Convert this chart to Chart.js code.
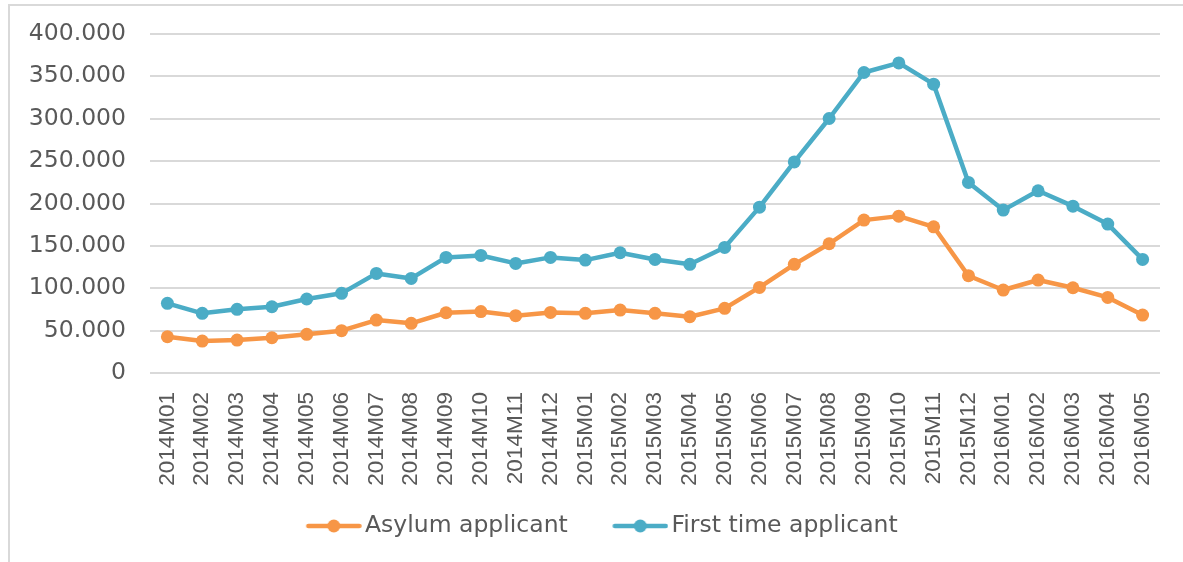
<!DOCTYPE html>
<html><head><meta charset="utf-8">
<script src="https://cdn.jsdelivr.net/npm/chart.js@4/dist/chart.umd.min.js"></script>
<style>
html,body{margin:0;padding:0;background:#fff;overflow:hidden}
#wrap{position:relative;width:1183px;height:562px}
#frame{position:absolute;left:8px;top:4px;width:1200px;height:600px;border:2px solid #d9d9d9;box-sizing:border-box}
canvas{position:absolute;left:0;top:0}
</style></head><body>
<div id="wrap"><div id="frame"></div><canvas id="c" width="1183" height="562"></canvas></div>
<script>
const categories = ['2014M01','2014M02','2014M03','2014M04','2014M05','2014M06','2014M07','2014M08','2014M09','2014M10','2014M11','2014M12',
  '2015M01','2015M02','2015M03','2015M04','2015M05','2015M06','2015M07','2015M08','2015M09','2015M10','2015M11','2015M12',
  '2016M01','2016M02','2016M03','2016M04','2016M05'];
const asylumApplicants = [42800, 37700, 38900, 41600, 45600, 49900, 62500, 58600, 71100, 72500, 67600, 71500,
  70400, 74300, 70400, 66400, 76300, 101000, 128200, 152500, 180400, 185100, 172500, 114800,
  97900, 109700, 100600, 89200, 68400];
const firstTimeApplicants = [82200, 70400, 75100, 78200, 87300, 94000, 117500, 111600, 136400, 138700, 129300, 136400,
  133200, 141900, 134000, 128200, 148200, 195700, 249100, 300300, 354600, 365900, 340800, 224900,
  192200, 215000, 196900, 175700, 134000];
const yTickValues = [0, 50000, 100000, 150000, 200000, 250000, 300000, 350000, 400000];
const seriesNames = ['Asylum applicant', 'First time applicant'];
const seriesColors = ['#F79646', '#4BACC6'];

function fmt(v) { return String(v).replace(/\B(?=(\d{3})+(?!\d))/g, '.'); }

function legendIcon(color) {
  const cv = document.createElement('canvas');
  cv.width = 108; cv.height = 16;
  const g = cv.getContext('2d');
  g.strokeStyle = color; g.lineWidth = 4.5; g.lineCap = 'round';
  g.beginPath(); g.moveTo(54.5, 8); g.lineTo(105.5, 8); g.stroke();
  g.fillStyle = color; g.beginPath(); g.arc(80, 8, 6.5, 0, Math.PI * 2); g.fill();
  return cv;
}
const legendIcons = seriesColors.map(legendIcon);

const AXIS_FONT = 'DejaVu Sans';
const LABEL_FONT = 'Liberation Sans';
const TEXT_COLOR = '#595959';

function makeDataset(i, data) {
  return {
    label: seriesNames[i], data: data,
    borderColor: seriesColors[i], backgroundColor: seriesColors[i],
    borderWidth: 4.5, tension: 0, borderCapStyle: 'round', borderJoinStyle: 'round',
    pointRadius: 6.5, pointHoverRadius: 6.5, pointBorderWidth: 0,
    pointBackgroundColor: seriesColors[i], pointBorderColor: seriesColors[i]
  };
}

new Chart(document.getElementById('c'), {
  type: 'line',
  data: { labels: categories, datasets: [makeDataset(0, asylumApplicants), makeDataset(1, firstTimeApplicants)] },
  options: {
    responsive: false, animation: false, devicePixelRatio: 1,
    layout: { padding: { left: 0, right: 23, top: 34, bottom: 14.25 } },
    plugins: {
      tooltip: { enabled: false },
      legend: {
        position: 'bottom', align: 'center',
        labels: {
          usePointStyle: true, pointStyleWidth: 91, padding: 1,
          color: TEXT_COLOR, font: { family: AXIS_FONT, size: 23.5 },
          generateLabels(chart) {
            const items = Chart.defaults.plugins.legend.labels.generateLabels(chart);
            items.forEach((it, i) => { it.pointStyle = legendIcons[i]; it.lineWidth = 0; });
            return items;
          }
        }
      }
    },
    scales: {
      x: {
        offset: true,
        grid: { display: false, drawTicks: false },
        border: { display: false },
        ticks: { autoSkip: false, minRotation: 90, maxRotation: 90, padding: 19,
          color: TEXT_COLOR, font: { family: LABEL_FONT, size: 22.5 } },
        afterFit(s) { s.height = 140.25; s.paddingLeft = 0; s.paddingRight = 0; s.paddingTop = 0; s.paddingBottom = 0; }
      },
      y: {
        min: 0, max: 400000,
        afterBuildTicks(s) { s.ticks = yTickValues.map(v => ({ value: v })); },
        grid: { color: '#d9d9d9', lineWidth: 2, drawTicks: false },
        border: { display: false },
        ticks: { padding: 24, color: TEXT_COLOR, font: { family: AXIS_FONT, size: 23.5 },
          callback: (v) => fmt(v) },
        afterFit(s) { s.width = 150; s.paddingLeft = 0; s.paddingRight = 0; s.paddingTop = 0; s.paddingBottom = 0; }
      }
    }
  }
});
</script>
</body></html>
